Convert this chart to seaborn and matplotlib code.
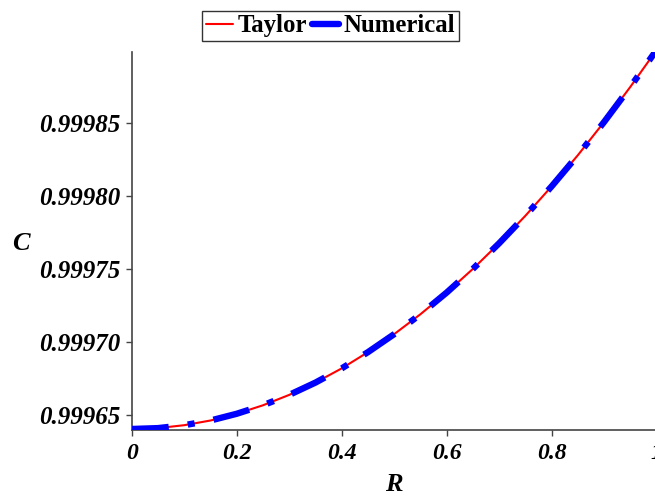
import matplotlib
matplotlib.use("Agg")
import matplotlib.pyplot as plt
from matplotlib.font_manager import FontProperties
import seaborn as sns
import pandas as pd

# Data
R_values = [0.0, 0.05, 0.1, 0.15, 0.2, 0.25, 0.3, 0.35, 0.4, 0.45, 0.5,
            0.55, 0.6, 0.65, 0.7, 0.75, 0.8, 0.85, 0.9, 0.95, 1.0]
C_taylor = [0.9996407, 0.9996413, 0.9996433, 0.9996465, 0.9996511, 0.9996569,
            0.9996640, 0.9996724, 0.9996821, 0.9996932, 0.9997055, 0.9997191,
            0.9997339, 0.9997501, 0.9997676, 0.9997864, 0.9998065, 0.9998278,
            0.9998505, 0.9998745, 0.9998997]
C_numerical = list(C_taylor)
series_names = ["Taylor", "Numerical"]
x_ticks = [0, 0.2, 0.4, 0.6, 0.8, 1]
x_tick_labels = ["0", "0.2", "0.4", "0.6", "0.8", "1"]
y_ticks = [0.99965, 0.99970, 0.99975, 0.99980, 0.99985]
y_tick_labels = ["0.99965", "0.99970", "0.99975", "0.99980", "0.99985"]

sns.set_theme(style="ticks")
plt.rcParams["font.family"] = ["Liberation Serif", "DejaVu Serif"]
plt.rcParams["text.color"] = "black"
plt.rcParams["xtick.color"] = "black"
plt.rcParams["ytick.color"] = "black"
plt.rcParams["axes.labelcolor"] = "black"

df = pd.DataFrame({
    "R": R_values * 2,
    "C": C_taylor + C_numerical,
    "series": [series_names[0]] * len(R_values) + [series_names[1]] * len(R_values),
})

fig = plt.figure(figsize=(6.55, 4.98), dpi=100)
ax = fig.add_axes([0.2011, 0.1365, 1.0026 - 0.2011, 0.895 - 0.1365])

sns.lineplot(data=df[df.series == "Taylor"], x="R", y="C", ax=ax,
             color="#ff0000", linewidth=1.5, label="Taylor", zorder=2)
sns.lineplot(data=df[df.series == "Numerical"], x="R", y="C", ax=ax,
             color="#0000ff", linewidth=4.6, label="Numerical", zorder=3)
num_line = ax.get_lines()[1]
num_line.set_linestyle((0, (5.8, 3.0, 1.1, 3.0)))
num_line.set_dash_capstyle("butt")

ax.set_xlim(0, 1)
ax.set_ylim(0.99964, 0.999898)
ax.set_xticks(x_ticks)
ax.set_xticklabels(x_tick_labels)
ax.set_yticks(y_ticks)
ax.set_yticklabels(y_tick_labels)

xfp = FontProperties(family="Liberation Serif", weight="bold", style="italic", size=17)
yfp = FontProperties(family="Liberation Serif", weight="bold", style="italic", size=18)
lfp = FontProperties(family="Liberation Serif", weight="bold", style="italic", size=19)
for lab in ax.get_xticklabels():
    lab.set_fontproperties(xfp)
    lab.set_color("black")
for lab in ax.get_yticklabels():
    lab.set_fontproperties(yfp)
    lab.set_color("black")

ax.tick_params(axis="both", direction="out", length=4.5, width=1, color="#444444")
ax.tick_params(axis="x", pad=5)
ax.tick_params(axis="y", pad=4)
ax.set_xlabel("R", fontproperties=lfp, labelpad=6.5, color="black")
ax.set_ylabel("C", fontproperties=lfp, rotation=0, va="center", ha="center", color="black")
ax.yaxis.set_label_coords(-0.212, 0.495)

for side in ["top", "right"]:
    ax.spines[side].set_visible(False)
for side in ["left", "bottom"]:
    ax.spines[side].set_color("#444444")
    ax.spines[side].set_linewidth(1.2)

leg = ax.legend(loc="center", bbox_to_anchor=(0.5046, 0.948),
                bbox_transform=fig.transFigure, ncol=2, frameon=True,
                prop=FontProperties(family="Liberation Serif", weight="bold", size=17.8),
                handlelength=1.1, handletextpad=0.18, columnspacing=0.2,
                borderpad=0.15, borderaxespad=0, fancybox=False)
leg.get_frame().set_edgecolor("black")
leg.get_frame().set_linewidth(1.0)
for t in leg.get_texts():
    t.set_color("black")
leg.get_lines()[1].set_linestyle("-")
leg.get_lines()[1].set_linewidth(4.6)

fig.savefig("out.png", dpi=100)
